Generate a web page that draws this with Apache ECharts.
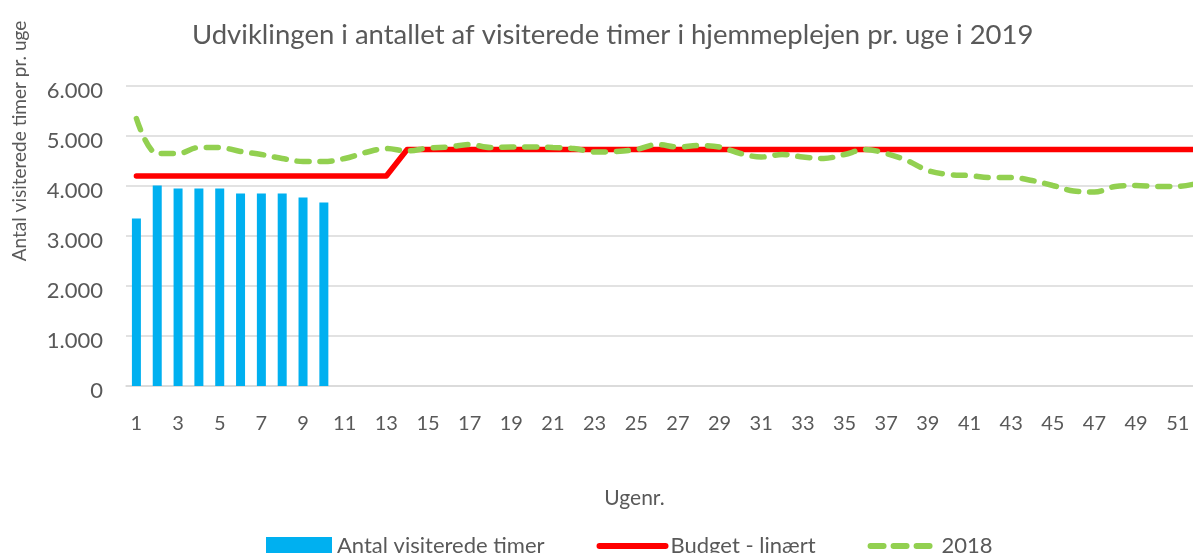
<!DOCTYPE html>
<html>
<head>
<meta charset="utf-8">
<script src="https://cdn.jsdelivr.net/npm/echarts@6/dist/echarts.min.js"></script>
<style>
    html, body { margin: 0; padding: 0; background: #fff; overflow: hidden; }
    #chart { width: 1215px; height: 553px; }
</style>
</head>
<body>
<div id="chart"></div>
<script>
var weeks = ['1', '2', '3', '4', '5', '6', '7', '8', '9', '10',
    '11', '12', '13', '14', '15', '16', '17', '18', '19', '20',
    '21', '22', '23', '24', '25', '26', '27', '28', '29', '30',
    '31', '32', '33', '34', '35', '36', '37', '38', '39', '40',
    '41', '42', '43', '44', '45', '46', '47', '48', '49', '50',
    '51', '52'];

// Antal visiterede timer (kun de første 10 uger)
var visiterede = [3350, 4010, 3950, 3950, 3950, 3850, 3850, 3850, 3770, 3670];

// Budget - linært
var budget = [4200, 4200, 4200, 4200, 4200, 4200, 4200, 4200, 4200, 4200,
    4200, 4200, 4200, 4730, 4730, 4730, 4730, 4730, 4730, 4730,
    4730, 4730, 4730, 4730, 4730, 4730, 4730, 4730, 4730, 4730,
    4730, 4730, 4730, 4730, 4730, 4730, 4730, 4730, 4730, 4730,
    4730, 4730, 4730, 4730, 4730, 4730, 4730, 4730, 4730, 4730,
    4730, 4730];

// 2018
var aar2018 = [5350, 4650, 4650, 4770, 4770, 4690, 4630, 4550, 4490, 4490,
    4550, 4670, 4750, 4700, 4760, 4780, 4830, 4770, 4780, 4780,
    4770, 4750, 4680, 4690, 4730, 4830, 4780, 4810, 4780, 4650,
    4580, 4630, 4580, 4550, 4630, 4730, 4650, 4510, 4310, 4230,
    4210, 4170, 4170, 4110, 4010, 3900, 3880, 3990, 4010, 3990,
    3990, 4060];

var yTicks = [0, 1000, 2000, 3000, 4000, 5000, 6000];

var textColor = '#595959';
var gridColor = '#D9D9D9';
var font = 'Lato';

var chart = echarts.init(document.getElementById('chart'));

var option = {
    animation: false,
    title: {
        text: 'Udviklingen i antallet af visiterede timer i hjemmeplejen pr. uge i 2019',
        left: 187,
        top: 16,
        textStyle: {
            fontFamily: font,
            fontSize: 27.5,
            fontWeight: 'normal',
            color: textColor
        }
    },
    legend: {
        left: 266,
        top: 535,
        padding: 0,
        itemWidth: 66,
        itemHeight: 18,
        itemGap: 52,
        textStyle: {
            fontFamily: font,
            fontSize: 22,
            color: textColor
        },
        data: [
            { name: 'Antal visiterede timer', icon: 'rect' },
            {
                name: 'Budget - linært',
                itemStyle: { opacity: 0 },
                lineStyle: { width: 6, cap: 'round' }
            },
            {
                name: '2018',
                itemStyle: { opacity: 0 },
                lineStyle: { width: 6, type: [13, 10], cap: 'round' }
            }
        ]
    },
    grid: {
        left: 126,
        top: 86,
        width: 1083,
        height: 300
    },
    xAxis: {
        type: 'category',
        data: weeks,
        boundaryGap: true,
        name: 'Ugenr.',
        nameLocation: 'middle',
        nameGap: 102,
        nameTextStyle: {
            fontFamily: font,
            fontSize: 21,
            color: textColor,
            padding: [0, 66, 0, 0]
        },
        axisTick: { show: false },
        axisLine: { lineStyle: { color: gridColor, width: 1.5 } },
        axisLabel: {
            interval: 1,
            margin: 28,
            fontFamily: font,
            fontSize: 20,
            color: textColor
        }
    },
    yAxis: {
        type: 'value',
        min: yTicks[0],
        max: yTicks[yTicks.length - 1],
        interval: 1000,
        name: 'Antal visiterede timer pr. uge',
        nameLocation: 'middle',
        nameGap: 97,
        nameTextStyle: {
            fontFamily: font,
            fontSize: 19,
            color: textColor,
            padding: [0, 0, 0, 190]
        },
        splitLine: { lineStyle: { color: gridColor, width: 1.5 } },
        axisLabel: {
            margin: 23,
            verticalAlign: 'top',
            lineHeight: 10,
            fontFamily: font,
            fontSize: 22,
            color: textColor,
            formatter: function (v) {
                return String(v).replace(/\B(?=(\d{3})+(?!\d))/g, '.');
            }
        }
    },
    series: [
        {
            name: 'Antal visiterede timer',
            type: 'bar',
            data: visiterede,
            barWidth: 9,
            itemStyle: { color: '#00B0F0' }
        },
        {
            name: 'Budget - linært',
            type: 'line',
            data: budget,
            symbol: 'none',
            lineStyle: { color: '#FF0000', width: 5.5, cap: 'round', join: 'round' },
            itemStyle: { color: '#FF0000' }
        },
        {
            name: '2018',
            type: 'line',
            data: aar2018,
            symbol: 'none',
            smooth: 0.35,
            lineStyle: {
                color: '#92D050',
                width: 5.5,
                type: [12, 11],
                cap: 'round'
            },
            itemStyle: { color: '#92D050' }
        }
    ]
};

chart.setOption(option);
</script>
</body>
</html>
